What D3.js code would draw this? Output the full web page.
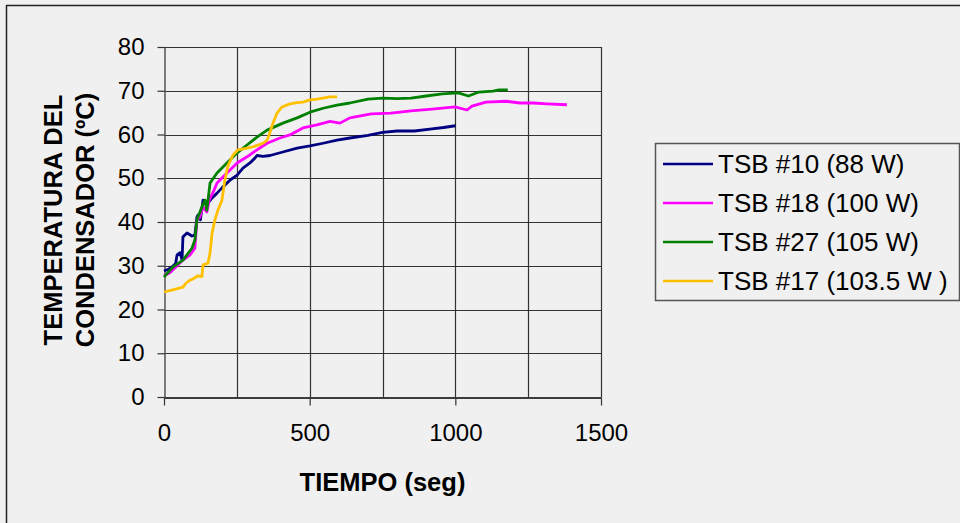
<!DOCTYPE html>
<html>
<head>
<meta charset="utf-8">
<script src="https://cdn.jsdelivr.net/npm/d3@7/dist/d3.min.js"></script>
<style>
  body { margin: 0; background: #f0f0f0; }
  svg { display: block; font-family: "Liberation Sans", Arial, sans-serif; }
</style>
</head>
<body>
<svg id="chart" width="960" height="523"></svg>
<script>
// Condenser temperature vs. time for four thermosiphon tests
const seriesNames = ["TSB #10 (88 W)", "TSB #18 (100 W)", "TSB #27 (105 W)", "TSB #17 (103.5 W )"];
const seriesColors = ["#000080", "#ff00ff", "#008000", "#ffc000"];

// [time (s), temperature (ºC)]
const tsb10 = [
  [0, 28.8], [15, 29.2], [27, 29.7], [40, 30.5], [45, 32.5], [55, 33], [62, 31.3],
  [65, 36.6], [79, 37.5], [96, 36.8], [106, 37], [113, 41.1], [117, 41.6], [125, 40.5],
  [134, 45], [145, 44], [151, 44.3], [165, 45.5], [182, 46.6], [199, 47.8], [227, 49.6],
  [251, 50.7], [271, 52.3], [295, 53.5], [312, 54.6], [319, 55.2], [340, 55], [364, 55.2],
  [408, 56], [457, 56.9], [501, 57.4], [546, 58], [594, 58.7], [638, 59.2], [700, 59.8],
  [750, 60.5], [800, 60.8], [860, 60.8], [920, 61.3], [960, 61.6], [1000, 62]
];
const tsb18 = [
  [0, 27.7], [20, 28.4], [45, 30], [65, 31.3], [90, 32.5], [106, 34], [113, 40.5],
  [123, 41.1], [134, 43.4], [147, 42.3], [155, 45], [170, 47], [182, 48.9], [216, 51.2],
  [251, 53.5], [285, 54.9], [319, 56.5], [354, 58], [398, 59.2], [432, 59.9], [477, 61.5],
  [525, 62.2], [570, 63], [604, 62.6], [638, 63.8], [711, 64.7], [779, 64.9], [848, 65.4],
  [920, 65.8], [999, 66.3], [1040, 65.6], [1057, 66.5], [1105, 67.4], [1174, 67.6],
  [1222, 67.2], [1267, 67.2], [1315, 67], [1383, 66.8]
];
const tsb27 = [
  [0, 27.4], [30, 29.7], [65, 31.3], [96, 34], [106, 35.9], [113, 40.5], [130, 43.4],
  [141, 45], [147, 42.7], [158, 48.9], [182, 51.2], [216, 53.5], [251, 55.8], [285, 57.6],
  [319, 59.4], [354, 61], [408, 62.6], [457, 63.8], [501, 65.1], [546, 66], [594, 66.7],
  [638, 67.2], [700, 68.1], [750, 68.3], [800, 68.2], [848, 68.3], [900, 68.8], [955, 69.3],
  [1010, 69.5], [1045, 68.8], [1081, 69.7], [1129, 69.9], [1150, 70.2], [1180, 70.2]
];
const tsb17 = [
  [0, 24], [30, 24.5], [65, 25.1], [75, 26], [89, 26.7], [100, 27], [117, 27.7], [130, 27.5],
  [134, 30.2], [151, 30.6], [158, 32.9], [165, 37.5], [175, 40.5], [185, 42.7], [199, 45],
  [209, 49.6], [220, 53], [237, 55.3], [254, 56.5], [285, 56.9], [306, 57.2], [340, 58],
  [354, 58.7], [364, 60.5], [374, 62.6], [388, 64.9], [405, 66.3], [432, 67], [457, 67.3],
  [477, 67.4], [501, 67.9], [525, 68.1], [570, 68.6], [594, 68.6]
];
const seriesData = [tsb10, tsb18, tsb27, tsb17];

const xTicks = [0, 500, 1000, 1500];
const xGrid = [250, 500, 750, 1000, 1250, 1500];
const yTicks = [0, 10, 20, 30, 40, 50, 60, 70, 80];
const xTitle = "TIEMPO (seg)";
const yTitleLines = ["TEMPERATURA DEL", "CONDENSADOR (ºC)"];

const svg = d3.select("#chart");
const plot = { left: 164, right: 601, top: 47, bottom: 397 };

// chart frame
svg.append("rect")
  .attr("x", 6.5).attr("y", 5.5).attr("width", 970).attr("height", 530)
  .attr("fill", "#f0f0f0").attr("stroke", "#222").attr("stroke-width", 1.5);

const x = d3.scaleLinear().domain([0, 1500]).range([plot.left, plot.right]);
const y = d3.scaleLinear().domain([0, 80]).range([plot.bottom, plot.top]);

// grid
const grid = svg.append("g");
grid.selectAll("line.h").data(yTicks.filter(d => d > 0)).join("line")
  .attr("x1", plot.left).attr("x2", plot.right)
  .attr("y1", d => Math.round(y(d)) + 0.5).attr("y2", d => Math.round(y(d)) + 0.5)
  .attr("stroke", "#333").attr("stroke-width", 1.2);
grid.selectAll("line.v").data(xGrid).join("line")
  .attr("y1", plot.top).attr("y2", plot.bottom)
  .attr("x1", d => Math.round(x(d)) + 0.5).attr("x2", d => Math.round(x(d)) + 0.5)
  .attr("stroke", "#333").attr("stroke-width", 1.2);

// axes
const xAxis = svg.append("g")
  .attr("transform", `translate(0,${plot.bottom + 0.5})`)
  .call(d3.axisBottom(x).tickValues(xTicks).tickFormat(d3.format("d"))
    .tickSize(8).tickSizeOuter(0).tickPadding(18));
const yAxis = svg.append("g")
  .attr("transform", `translate(${plot.left + 0.5},0)`)
  .call(d3.axisLeft(y).tickValues(yTicks).tickFormat(d3.format("d"))
    .tickSize(7).tickSizeOuter(0).tickPadding(13));
[xAxis, yAxis].forEach(a => {
  a.select(".domain").attr("stroke", "#555").attr("stroke-width", 1.5);
  a.selectAll(".tick line").attr("stroke", "#333").attr("stroke-width", 1.2);
  a.selectAll(".tick text")
    .attr("fill", "#000").attr("font-size", 24)
    .attr("font-family", '"Liberation Sans", Arial, sans-serif');
});
xAxis.select(".domain").attr("stroke", "#000");

// series
const line = d3.line().x(d => x(d[0])).y(d => y(d[1]));
svg.append("g").selectAll("path").data(seriesData).join("path")
  .attr("d", line)
  .attr("fill", "none")
  .attr("stroke", (d, i) => seriesColors[i])
  .attr("stroke-width", 2.8)
  .attr("stroke-linejoin", "round");

// axis titles
svg.append("text")
  .attr("x", (plot.left + plot.right) / 2).attr("y", 491)
  .attr("text-anchor", "middle").attr("font-size", 25.5).attr("font-weight", "bold")
  .text(xTitle);
svg.append("g").selectAll("text").data(yTitleLines).join("text")
  .attr("transform", (d, i) => `translate(${62 + i * 32},220) rotate(-90)`)
  .attr("text-anchor", "middle").attr("font-size", 25.5).attr("font-weight", "bold")
  .text(d => d);

// legend
const legend = svg.append("g");
legend.append("rect")
  .attr("x", 655.5).attr("y", 143.5).attr("width", 304).attr("height", 157)
  .attr("fill", "#f0f0f0").attr("stroke", "#555").attr("stroke-width", 1.5);
const rows = legend.selectAll("g").data(seriesNames).join("g")
  .attr("transform", (d, i) => `translate(0,${164 + i * 39})`);
rows.append("line")
  .attr("x1", 663).attr("x2", 713)
  .attr("stroke", (d, i) => seriesColors[i]).attr("stroke-width", 2.6);
rows.append("text")
  .attr("x", 718).attr("dy", "0.36em").attr("font-size", 26)
  .text(d => d);
</script>
</body>
</html>
